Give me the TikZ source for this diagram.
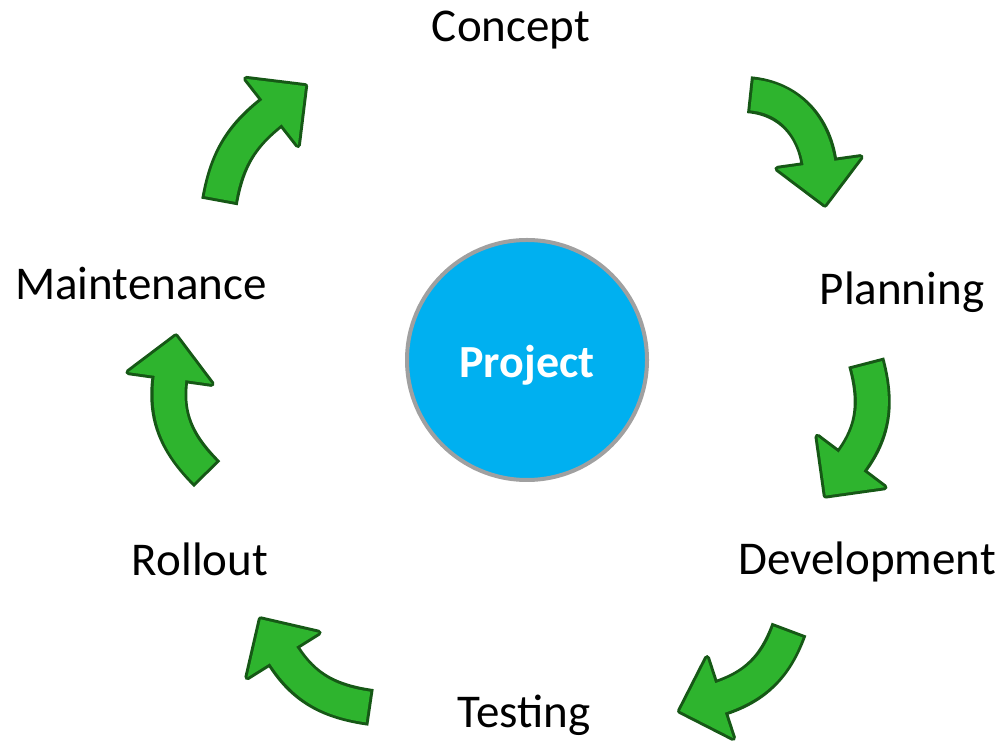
\documentclass[tikz,border=0pt]{standalone}
\usepackage{fontspec}
\setmainfont{Carlito}
\usepackage{tikz}
\usetikzlibrary{calc, positioning}

\definecolor{projectblue}{RGB}{0,176,240}
\definecolor{ringgray}{RGB}{160,160,160}
\definecolor{arrowgreen}{RGB}{46,180,46}
\definecolor{arrowdark}{RGB}{22,88,22}

\tikzset{
    phase/.style={anchor=base, font=\fontsize{47}{56}\selectfont},
    hub/.style={circle, draw=ringgray, line width=4pt, fill=projectblue,
        minimum size=240pt, text=white, text height=36pt, text depth=0pt,
        font=\fontsize{46}{55}\selectfont\bfseries},
    shaftedge/.style={draw=arrowdark, line width=37pt, shorten <=-3pt},
    shaftfill/.style={draw=arrowgreen, line width=31pt, shorten >=-3pt},
    headedge/.style={fill=arrowdark, draw=arrowdark, line width=6pt, line join=round},
    headfill/.style={fill=arrowgreen}
}

% #1 tail, #2 out angle, #3 head base, #4 in angle
\newcommand{\cycarrow}[4]{%
    \path (#3) coordinate (b) ($(b)+(#4+180:42)$) coordinate (p)
        ($(b)!42pt!90:(p)$) coordinate (l) ($(b)!42pt!-90:(p)$) coordinate (r);
    \draw[shaftedge] (#1) to[out=#2, in=#4] (b);
    \filldraw[headedge] (l) -- (p) -- (r) -- cycle;
    \draw[shaftfill] (#1) to[out=#2, in=#4] (b);
    \fill[headfill] (l) -- (p) -- (r) -- cycle;
}

\begin{document}
\begin{tikzpicture}[x=1pt, y=1pt]
    \useasboundingbox (0,0) rectangle (1003,749);

    \node[hub] (project) at (527,389) {Project};

    \node[phase] (concept) at (511,707) {Concept};
    \node[phase] (planning) at (902,444) {Planning};
    \node[phase] (development) at (867,174) {Development};
    \node[phase] (testing) at (524,21) {Testing};
    \node[phase] (rollout) at (200,173) {Rollout};
    \node[phase] (maintenance) at (141,449) {Maintenance};

    % arrows round the cycle
    \cycarrow{220,550}{80}{272,637}{218}
    \cycarrow{752,654}{-5}{819,586}{98}
    \cycarrow{867,384}{-75}{851,287}{53}
    \cycarrow{788,117}{-110}{720,51}{18}
    \cycarrow{368,42}{172}{283,94}{302}
    \cycarrow{205,277}{135}{170,371}{262}

\end{tikzpicture}
\end{document}
